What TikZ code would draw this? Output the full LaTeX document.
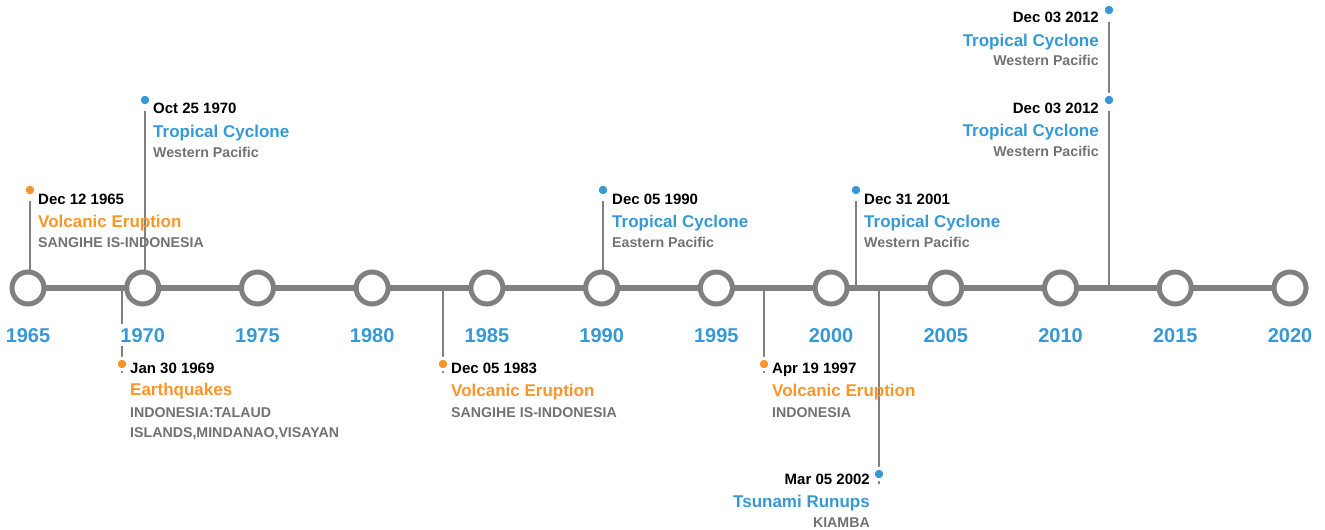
\documentclass[tikz,border=0pt]{standalone}
\usepackage{fontspec}
\setmainfont{Liberation Sans}
\usetikzlibrary{calc}
\definecolor{tlblue}{HTML}{3699D6}
\definecolor{tlorange}{HTML}{FA9629}
\definecolor{tlgray}{HTML}{808080}
\definecolor{subgray}{HTML}{727272}
\begin{document}
\begin{tikzpicture}[x=1pt,y=-1pt,
  axisline/.style={line width=6pt, draw=tlgray},
  yearring/.style={circle, draw=tlgray, line width=5pt, fill=white, minimum size=32pt, inner sep=0pt},
  yearlabel/.style={font=\fontsize{20}{20}\selectfont\bfseries, text=tlblue, fill=white, inner xsep=2pt, inner ysep=4pt, anchor=base},
  stem/.style={draw=tlgray, line width=2pt},
  upstem/.style={stem, shorten >=11pt},
  evdot/.style={circle, draw=white, line width=3pt, minimum size=11.5pt, inner sep=0pt},
  bluedot/.style={evdot, fill=tlblue},
  orangedot/.style={evdot, fill=tlorange},
  datetxt/.style={font=\fontsize{15}{15}\selectfont\bfseries, text=black, inner sep=0pt, anchor=base west},
  titletxt/.style={font=\fontsize{17}{17}\selectfont\bfseries, inner sep=0pt, anchor=base west},
  subtxt/.style={font=\fontsize{14.2}{14.2}\selectfont\bfseries, text=subgray, inner sep=0pt, anchor=base west},
  rightal/.style={anchor=base east}
]
\useasboundingbox (0,0) rectangle (1325,530);

% axis base points for stems
\coordinate (a1) at (30,288);
\coordinate (a2) at (122,288);
\coordinate (a3) at (145,288);
\coordinate (a4) at (443,288);
\coordinate (a5) at (603,288);
\coordinate (a6) at (764,288);
\coordinate (a7) at (856,288);
\coordinate (a8) at (879,288);
\coordinate (a9) at (1109,288);

% dot positions
\coordinate (p1) at (30,190);
\coordinate (p2) at (122,364);
\coordinate (p3) at (145,100);
\coordinate (p4) at (443,364);
\coordinate (p5) at (603,190);
\coordinate (p6) at (764,364);
\coordinate (p7) at (856,190);
\coordinate (p8) at (879,474);
\coordinate (p9) at (1109,100);
\coordinate (p10) at (1109,10);

% stems
\draw[upstem] (a1) -- (p1);
\draw[stem] (a2) -- ($(p2)+(0,9)$);
\draw[upstem] (a3) -- (p3);
\draw[stem] (a4) -- ($(p4)+(0,9)$);
\draw[upstem] (a5) -- (p5);
\draw[stem] (a6) -- ($(p6)+(0,9)$);
\draw[upstem] (a7) -- (p7);
\draw[stem] (a8) -- ($(p8)+(0,10)$);
\draw[upstem] (a9) -- (p9);
\draw[stem, shorten <=6pt, shorten >=12pt] (p9) -- (p10);

% year rings
\foreach \i/\yr in {0/1965,1/1970,2/1975,3/1980,4/1985,5/1990,6/1995,7/2000,8/2005,9/2010,10/2015,11/2020}{
  \coordinate (c\yr) at ({28+\i*114.727},288);
}
\draw[axisline] (c1965) -- (c2020);
\foreach \yr in {1965,1970,1975,1980,1985,1990,1995,2000,2005,2010,2015,2020}{
  \node[yearring] (r\yr) at (c\yr) {};
  \node[yearlabel] (y\yr) at ($(c\yr)+(0,54)$) {\yr};
}

% dots
\node[orangedot] (d1) at (p1) {};
\node[orangedot] (d2) at (p2) {};
\node[bluedot] (d3) at (p3) {};
\node[orangedot] (d4) at (p4) {};
\node[bluedot] (d5) at (p5) {};
\node[orangedot] (d6) at (p6) {};
\node[bluedot] (d7) at (p7) {};
\node[bluedot] (d8) at (p8) {};
\node[bluedot] (d9) at (p9) {};
\node[bluedot] (d10) at (p10) {};

% event 1
\node[datetxt] (t1a) at (38,204) {Dec 12 1965};
\node[titletxt, text=tlorange] (t1b) at (38,227) {Volcanic Eruption};
\node[subtxt] (t1c) at (38,247) {SANGIHE IS-INDONESIA};
% event 2
\node[datetxt] (t2a) at (130,373) {Jan 30 1969};
\node[titletxt, text=tlorange] (t2b) at (130,395) {Earthquakes};
\node[subtxt] (t2c) at (130,417) {INDONESIA:TALAUD};
\node[subtxt] (t2d) at (130,437) {ISLANDS,MINDANAO,VISAYAN};
% event 3
\node[datetxt] (t3a) at (153,113) {Oct 25 1970};
\node[titletxt, text=tlblue] (t3b) at (153,137) {Tropical Cyclone};
\node[subtxt] (t3c) at (153,157) {Western Pacific};
% event 4
\node[datetxt] (t4a) at (451,373) {Dec 05 1983};
\node[titletxt, text=tlorange] (t4b) at (451,396) {Volcanic Eruption};
\node[subtxt] (t4c) at (451,417) {SANGIHE IS-INDONESIA};
% event 5
\node[datetxt] (t5a) at (612,204) {Dec 05 1990};
\node[titletxt, text=tlblue] (t5b) at (612,227) {Tropical Cyclone};
\node[subtxt] (t5c) at (612,247) {Eastern Pacific};
% event 6
\node[datetxt] (t6a) at (772,373) {Apr 19 1997};
\node[titletxt, text=tlorange] (t6b) at (772,396) {Volcanic Eruption};
\node[subtxt] (t6c) at (772,417) {INDONESIA};
% event 7
\node[datetxt] (t7a) at (864,204) {Dec 31 2001};
\node[titletxt, text=tlblue] (t7b) at (864,227) {Tropical Cyclone};
\node[subtxt] (t7c) at (864,247) {Western Pacific};
% event 8
\node[datetxt, rightal] (t8a) at (870,484) {Mar 05 2002};
\node[titletxt, text=tlblue, rightal] (t8b) at (870,507) {Tsunami Runups};
\node[subtxt, rightal] (t8c) at (870,527) {KIAMBA};
% event 9
\node[datetxt, rightal] (t9a) at (1099,113) {Dec 03 2012};
\node[titletxt, text=tlblue, rightal] (t9b) at (1099,136) {Tropical Cyclone};
\node[subtxt, rightal] (t9c) at (1099,156) {Western Pacific};
% event 10
\node[datetxt, rightal] (t10a) at (1099,23) {Dec 03 2012};
\node[titletxt, text=tlblue, rightal] (t10b) at (1099,46) {Tropical Cyclone};
\node[subtxt, rightal] (t10c) at (1099,65) {Western Pacific};
\end{tikzpicture}
\end{document}
